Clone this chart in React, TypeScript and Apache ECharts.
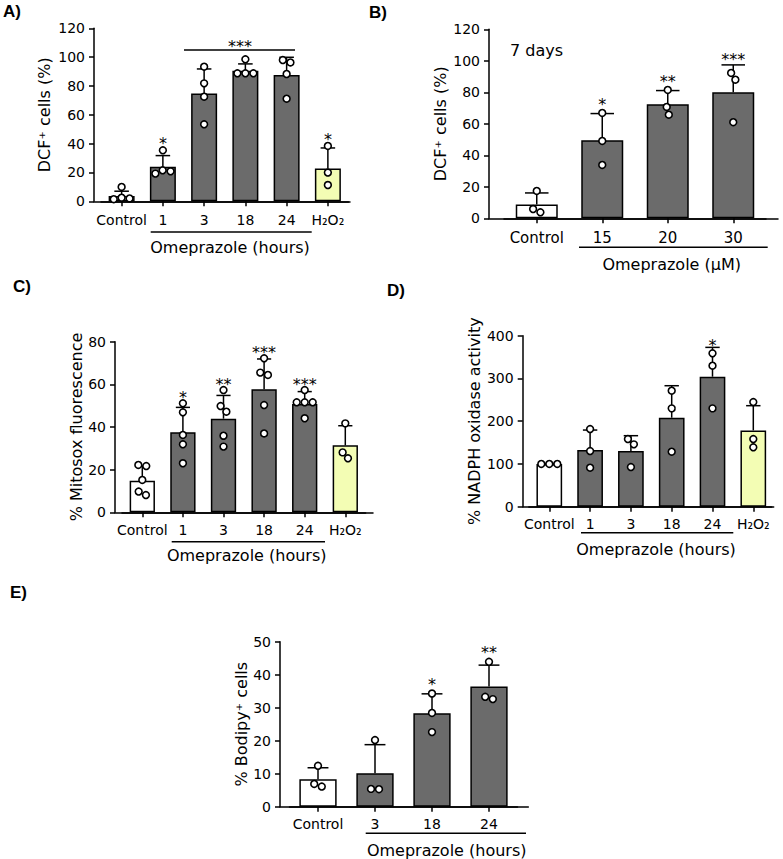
import React, { useEffect, useRef } from "react";
import * as echarts from "echarts";

// ---------------- Data ----------------
// Panel A – DCF+ cells, omeprazole time course
const aCategories = ["Control", "1", "3", "18", "24", "H₂O₂"];
const aMeans = [3.7, 24.0, 74.7, 90.6, 87.6, 22.7];
const aErrorTops = [7.0, 31.7, 91.8, 95.3, 99.9, 37.0];
const aPoints = [
  [1.5, 2.0, 2.5, 10.0],
  [35.4, 21.5, 19.2, 20.8],
  [93.4, 81.8, 72.6, 53.4],
  [98.5, 88.8, 88.8, 88.8],
  [98.0, 96.3, 88.3, 71.2],
  [38.4, 19.9, 11.3],
];
const aStars = ["", "*", "", "", "", "*"];
const aYMax = 120;
const aYStep = 20;

// Panel B – DCF+ cells, 7 days, dose
const bCategories = ["Control", "15", "20", "30"];
const bMeans = [8.7, 49.5, 72.4, 80.0];
const bErrorTops = [16.1, 66.5, 81.1, 97.4];
const bPoints = [
  [17.4, 3.8, 5.9],
  [66.9, 49.1, 33.9],
  [81.5, 70.7, 65.8],
  [92.3, 88.0, 61.0],
];
const bStars = ["", "*", "**", "***"];
const bYMax = 120;
const bYStep = 20;

// Panel C – Mitosox fluorescence
const cCategories = ["Control", "1", "3", "18", "24", "H₂O₂"];
const cMeans = [14.8, 37.5, 43.9, 57.7, 50.8, 31.4];
const cErrorTops = [21.7, 49.2, 54.8, 71.9, 56.6, 40.6];
const cPoints = [
  [21.7, 22.2, 15.2, 8.1, 9.7],
  [51.1, 46.9, 36.3, 31.9, 23.0],
  [57.3, 49.8, 47.2, 35.9, 30.8],
  [72.2, 64.4, 65.5, 50.3, 37.0],
  [57.3, 51.6, 51.6, 51.6, 44.1],
  [41.7, 25.3, 28.1],
];
const cStars = ["", "*", "**", "***", "***", ""];
const cYMax = 80;
const cYStep = 20;

// Panel D – NADPH oxidase activity
const dCategories = ["Control", "1", "3", "18", "24", "H₂O₂"];
const dMeans = [99.8, 132.6, 130.2, 208.2, 304.1, 178.5];
const dErrorTops = [101.0, 179.3, 166.1, 283.0, 372.7, 236.3];
const dPoints = [
  [100, 100, 100],
  [181.7, 130.2, 91.2],
  [158.3, 145.8, 92.8],
  [271.3, 230.0, 128.7],
  [358.7, 329.9, 230.0],
  [244.8, 138.8, 158.3],
];
const dStars = ["", "", "", "", "*", ""];
const dYMax = 400;
const dYStep = 100;

// Panel E – Bodipy+ cells
const eCategories = ["Control", "3", "18", "24"];
const eMeans = [8.3, 10.1, 28.3, 36.4];
const eErrorTops = [11.8, 18.8, 34.2, 42.9];
const ePoints = [
  [12.4, 6.1, 6.9],
  [20.2, 5.3, 5.4],
  [34.3, 28.4, 22.6],
  [43.9, 32.6, 33.3],
];
const eStars = ["", "", "*", "**"];
const eYMax = 50;
const eYStep = 10;

// ---------------- Styles ----------------
const BLACK = "#000000";
const GRAY = "#6b6b6b";
const YELLOW = "#f3fdb4";
const WHITE = "#ffffff";
const FONT = "DejaVu Sans";
const BOLD_FONT = "Liberation Sans";

function fillFor(cat: string): string {
  if (cat === "Control") return WHITE;
  if (cat === "H₂O₂") return YELLOW;
  return GRAY;
}

// simple beeswarm: horizontal offsets (px) so circles of diameter d don't overlap
function swarm(ys: number[], d: number): number[] {
  const n = ys.length;
  const order = ys.map((_, k) => k).sort((a, b) => ys[a] - ys[b]);
  const xs: number[] = new Array(n).fill(0);
  const placed: number[] = [];
  for (const k of order) {
    const cands: number[] = [0];
    for (const q of placed) {
      const dy = Math.abs(ys[q] - ys[k]);
      if (dy < d) {
        const w = Math.sqrt(d * d - dy * dy);
        cands.push(xs[q] + w, xs[q] - w);
      }
    }
    cands.sort((a, b) => Math.abs(a) - Math.abs(b) || b - a);
    let chosen = 0;
    for (const c of cands) {
      let ok = true;
      for (const q of placed) {
        const dx = c - xs[q];
        const dy = ys[k] - ys[q];
        if (dx * dx + dy * dy < d * d - 0.01) {
          ok = false;
          break;
        }
      }
      if (ok) {
        chosen = c;
        break;
      }
    }
    xs[k] = chosen;
    placed.push(k);
  }
  const comp: number[] = new Array(n).fill(-1);
  let c = 0;
  for (let s = 0; s < n; s++) {
    if (comp[s] >= 0) continue;
    const stack = [s];
    comp[s] = c;
    while (stack.length) {
      const u = stack.pop() as number;
      for (let v = 0; v < n; v++) {
        if (comp[v] < 0 && Math.abs(ys[u] - ys[v]) < d) {
          comp[v] = c;
          stack.push(v);
        }
      }
    }
    c++;
  }
  for (let g = 0; g < c; g++) {
    const members = xs.map((_, k) => k).filter((k) => comp[k] === g);
    if (members.length < 2) continue;
    const m = members.reduce((s, k) => s + xs[k], 0) / members.length;
    members.forEach((k) => (xs[k] -= m));
  }
  return xs;
}

type Panel = {
  cats: string[];
  means: number[];
  errs: number[];
  pts: number[][];
  stars: string[];
  yMax: number;
  yStep: number;
  yName: string;
  axisX: number;
  axisEnd: number;
  top: number;
  bottom: number;
  bandStart: number;
  bandEnd: number;
  barWidth: number;
  catFont: number;
  catMargin: number;
  nameGap: number;
  starGap: number;
};

const panels: Panel[] = [
  {
    cats: aCategories, means: aMeans, errs: aErrorTops, pts: aPoints, stars: aStars,
    yMax: aYMax, yStep: aYStep, yName: "DCF⁺ cells (%)",
    axisX: 94, axisEnd: 350, top: 28.3, bottom: 201.3, bandStart: 101, bandEnd: 348.5,
    barWidth: 26, catFont: 14, catMargin: 12, nameGap: 42, starGap: 7,
  },
  {
    cats: bCategories, means: bMeans, errs: bErrorTops, pts: bPoints, stars: bStars,
    yMax: bYMax, yStep: bYStep, yName: "DCF⁺ cells (%)",
    axisX: 489, axisEnd: 778, top: 29.3, bottom: 218.3, bandStart: 504, bandEnd: 766,
    barWidth: 42, catFont: 15, catMargin: 12, nameGap: 41, starGap: 9,
  },
  {
    cats: cCategories, means: cMeans, errs: cErrorTops, pts: cPoints, stars: cStars,
    yMax: cYMax, yStep: cYStep, yName: "% Mitosox fluorescence",
    axisX: 115, axisEnd: 373, top: 341.7, bottom: 512.3, bandStart: 122, bandEnd: 365.6,
    barWidth: 25.3, catFont: 14, catMargin: 11, nameGap: 31, starGap: 6,
  },
  {
    cats: dCategories, means: dMeans, errs: dErrorTops, pts: dPoints, stars: dStars,
    yMax: dYMax, yStep: dYStep, yName: "% NADPH oxidase activity",
    axisX: 522.7, axisEnd: 771.7, top: 335.7, bottom: 506.7, bandStart: 528.9, bandEnd: 773.7,
    barWidth: 25.7, catFont: 14, catMargin: 10, nameGap: 40, starGap: 6,
  },
  {
    cats: eCategories, means: eMeans, errs: eErrorTops, pts: ePoints, stars: eStars,
    yMax: eYMax, yStep: eYStep, yName: "% Bodipy⁺ cells",
    axisX: 280, axisEnd: 528.3, top: 641.7, bottom: 806.7, bandStart: 289.5, bandEnd: 517.5,
    barWidth: 37.3, catFont: 14, catMargin: 10, nameGap: 29, starGap: 10,
  },
];

function buildOption(): any {
  const grid: any[] = [];
  const xAxis: any[] = [];
  const yAxis: any[] = [];
  const series: any[] = [];
  const axisLine = { show: true, lineStyle: { color: BLACK, width: 1.5 } };
  const tickLine = { color: BLACK, width: 1.5 };

  panels.forEach((p, k) => {
    const h = p.bottom - p.top;
    grid.push({ left: p.axisX, top: p.top, width: p.axisEnd - p.axisX, height: h, outerBoundsMode: "none" });
    grid.push({ left: p.bandStart, top: p.top, width: p.bandEnd - p.bandStart, height: h, outerBoundsMode: "none" });

    xAxis.push({
      gridIndex: 2 * k, type: "value", min: 0, max: 1,
      axisLine, axisTick: { show: false }, axisLabel: { show: false }, splitLine: { show: false },
    });
    xAxis.push({
      gridIndex: 2 * k + 1, type: "category", data: p.cats,
      axisLine,
      axisTick: { show: true, alignWithLabel: true, length: 5, lineStyle: tickLine },
      axisLabel: { interval: 0, margin: p.catMargin, color: BLACK, fontFamily: FONT, fontSize: p.catFont },
      splitLine: { show: false },
    });
    yAxis.push({
      gridIndex: 2 * k, type: "value", min: 0, max: p.yMax, interval: p.yStep,
      axisLine,
      axisTick: { show: true, length: 5, lineStyle: tickLine },
      axisLabel: { margin: 9, color: BLACK, fontFamily: FONT, fontSize: 14 },
      splitLine: { show: false },
      name: p.yName, nameLocation: "middle", nameRotate: 90, nameGap: p.nameGap,
      nameTextStyle: { color: BLACK, fontFamily: FONT, fontSize: 16 },
    });
    yAxis.push({ gridIndex: 2 * k + 1, type: "value", min: 0, max: p.yMax, show: false });

    series.push({
      type: "bar",
      xAxisIndex: 2 * k + 1,
      yAxisIndex: 2 * k + 1,
      barWidth: p.barWidth,
      z: 2,
      data: p.means.map((v, i) => ({
        value: v,
        itemStyle: { color: fillFor(p.cats[i]), borderColor: BLACK, borderWidth: 1.5 },
      })),
    });

    series.push({
      type: "custom",
      xAxisIndex: 2 * k + 1,
      yAxisIndex: 2 * k + 1,
      clip: false,
      z: 3,
      itemStyle: { color: BLACK },
      data: p.cats.map((_, i) => [i, p.errs[i]]),
      renderItem: (params: any, api: any) => {
        const i = params.dataIndex;
        const base = api.coord([i, p.means[i]]);
        const cx = base[0];
        const yMean = base[1];
        const yErr = api.coord([i, p.errs[i]])[1];
        const children: any[] = [];
        const capHalf = p.barWidth * 0.28;
        if (yErr < yMean - 0.5) {
          children.push({
            type: "line",
            shape: { x1: cx, y1: yMean, x2: cx, y2: yErr },
            style: { stroke: BLACK, lineWidth: 1.5 },
          });
          children.push({
            type: "line",
            shape: { x1: cx - capHalf, y1: yErr, x2: cx + capHalf, y2: yErr },
            style: { stroke: BLACK, lineWidth: 1.5 },
          });
        }
        const r = 3.4;
        const ys = p.pts[i].map((v) => api.coord([i, v])[1]);
        const xs = swarm(ys, 2 * r + 1.2);
        ys.forEach((y, j) => {
          children.push({
            type: "circle",
            shape: { cx: cx + xs[j], cy: y, r },
            style: { fill: WHITE, stroke: BLACK, lineWidth: 1.6 },
          });
        });
        if (p.stars[i]) {
          const topY = Math.min(yErr, Math.min(...ys) - r);
          children.push({
            type: "text",
            x: cx,
            y: topY - p.starGap + 4,
            style: {
              text: p.stars[i],
              align: "center",
              verticalAlign: "middle",
              fontFamily: FONT,
              fontSize: 16,
              fill: BLACK,
            },
          });
        }
        return { type: "group", children };
      },
    });
  });

  const txt = (text: string, x: number, y: number, size: number, opts: any = {}) => ({
    type: "text",
    x,
    y,
    silent: true,
    style: {
      text,
      fontFamily: opts.family || FONT,
      fontSize: size,
      fontWeight: opts.weight || "normal",
      fill: BLACK,
      align: opts.align || "center",
      verticalAlign: "middle",
    },
  });
  const hline = (x1: number, x2: number, y: number) => ({
    type: "line",
    silent: true,
    shape: { x1, y1: y, x2, y2: y },
    style: { stroke: BLACK, lineWidth: 1.5 },
  });

  const graphic: any[] = [
    txt("A)", 3, 11, 17, { family: BOLD_FONT, weight: "bold", align: "left" }),
    txt("B)", 369, 12, 17, { family: BOLD_FONT, weight: "bold", align: "left" }),
    txt("C)", 13, 286, 17, { family: BOLD_FONT, weight: "bold", align: "left" }),
    txt("D)", 387, 290, 17, { family: BOLD_FONT, weight: "bold", align: "left" }),
    txt("E)", 10, 592, 17, { family: BOLD_FONT, weight: "bold", align: "left" }),
    // A bracket
    hline(184, 295, 50),
    txt("***", 240, 46.5, 16),
    hline(150.7, 311.7, 232),
    txt("Omeprazole (hours)", 230, 247.7, 16),
    // B
    txt("7 days", 510, 50.7, 16, { align: "left" }),
    hline(579, 767.7, 247.3),
    txt("Omeprazole (μM)", 671.7, 264.3, 16),
    // C
    hline(171.7, 325, 541.7),
    txt("Omeprazole (hours)", 246.7, 555.7, 16),
    // D
    hline(581, 733.3, 532.7),
    txt("Omeprazole (hours)", 656, 549, 16),
    // E
    hline(365.7, 526, 833.3),
    txt("Omeprazole (hours)", 446.7, 850.7, 16),
  ];

  return {
    animation: false,
    backgroundColor: WHITE,
    textStyle: { fontFamily: FONT },
    grid,
    xAxis,
    yAxis,
    series,
    graphic,
  };
}

export default function App() {
  const ref = useRef<HTMLDivElement>(null);
  useEffect(() => {
    if (!ref.current) return;
    const chart = echarts.init(ref.current, null, { renderer: "svg" });
    chart.setOption(buildOption());
    return () => chart.dispose();
  }, []);
  return (
    <div
      ref={ref}
      style={{ position: "absolute", left: 0, top: 0, width: 783, height: 859, background: "#fff" }}
    />
  );
}
